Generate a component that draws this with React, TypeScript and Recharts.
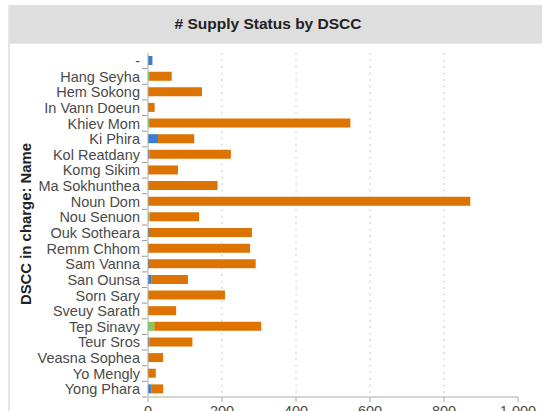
import { BarChart, Bar, XAxis, YAxis, CartesianGrid } from 'recharts';

// DSCC staff in charge, top to bottom
const names = [
    '-', 'Hang Seyha', 'Hem Sokong', 'In Vann Doeun', 'Khiev Mom', 'Ki Phira', 'Kol Reatdany', 'Komg Sikim',
    'Ma Sokhunthea', 'Noun Dom', 'Nou Senuon', 'Ouk Sotheara', 'Remm Chhom', 'Sam Vanna', 'San Ounsa',
    'Sorn Sary', 'Sveuy Sarath', 'Tep Sinavy', 'Teur Sros', 'Veasna Sophea', 'Yo Mengly', 'Yong Phara',
];

// supply status counts per person (stacked, left to right)
const delivered = [12, 0, 0, 0, 0, 27, 0, 0, 0, 0, 0, 0, 0, 0, 10, 0, 0, 0, 0, 0, 0, 10];
const partial = [0, 3, 0, 0, 3, 0, 0, 0, 0, 0, 4, 0, 0, 0, 0, 0, 0, 17, 0, 0, 0, 0];
const other = [0, 0, 0, 0, 0, 0, 4, 0, 0, 0, 0, 5, 0, 5, 0, 0, 0, 0, 4, 0, 0, 0];
const pending = [0, 61, 146, 18, 544, 98, 220, 81, 188, 871, 134, 276, 276, 286, 98, 208, 76, 289, 116, 41, 21, 31];

const xTicks = [0, 200, 400, 600, 800, 1000];

const data = names.map((name, i) => ({
    name,
    delivered: delivered[i],
    partial: partial[i],
    other: other[i],
    pending: pending[i],
}));

const FONT = '"Liberation Sans", Arial, Helvetica, sans-serif';

// category label plus a small tick at the band edge
const NameTick = ({ x, y, payload }: any) => (
    <g>
        <line x1={x + 1} x2={x + 6} y1={y + 7.8} y2={y + 7.8} stroke="#999" />
        <text x={x - 1} y={y} dy="0.36em" textAnchor="end" fill="#4a4a4a" fontSize={14.5} fontFamily={FONT}>
            {payload.value}
        </text>
    </g>
);

const App = () => {
    return (
        <div style={{ position: 'absolute', left: 0, top: 0, width: 542, height: 411, overflow: 'hidden', background: '#fff', fontFamily: FONT }}>
            {/* panel frame + header */}
            <div style={{ position: 'absolute', left: 8, top: 5, width: 540, height: 420, borderLeft: '2px solid #e6e6e6', borderTop: '1px solid #e2e2e2', boxSizing: 'border-box' }}>
                <div style={{ height: 37, background: '#dedede', borderBottom: '1px solid #e8e8e8' }} />
            </div>
            <div style={{ position: 'absolute', left: 8, top: 14, width: 520, textAlign: 'center', fontWeight: 'bold', fontSize: 15.5, color: '#222', lineHeight: '20px' }}>
                # Supply Status by DSCC
            </div>
            <div style={{ position: 'absolute', left: 26, top: 224, width: 0, height: 0 }}>
                <div style={{ position: 'absolute', transform: 'translate(-50%, -50%) rotate(-90deg)', whiteSpace: 'nowrap', fontWeight: 'bold', fontSize: 14.9, color: '#222', lineHeight: '18px' }}>
                    DSCC in charge: Name
                </div>
            </div>

            <div style={{ position: 'absolute', left: 0, top: 0 }}>
                <BarChart width={542} height={440} data={data} layout="vertical" margin={{ top: 53, right: 24, bottom: 13, left: 8 }} barSize={9}>
                    <CartesianGrid horizontal={false} verticalValues={[200, 400, 600, 800]} stroke="#c8c8c8" strokeDasharray="2 4.5" />
                    <XAxis
                        type="number"
                        domain={[0, 1000]}
                        ticks={xTicks}
                        tickFormatter={(v: number) => v.toLocaleString('en-US')}
                        height={30}
                        tickSize={5}
                        tickMargin={4}
                        axisLine={{ stroke: '#aaa' }}
                        tickLine={{ stroke: '#aaa' }}
                        tick={{ fill: '#4a4a4a', fontSize: 14.5, fontFamily: FONT }}
                    />
                    <YAxis
                        dataKey="name"
                        type="category"
                        width={140}
                        interval={0}
                        tickSize={5}
                        tickLine={false}
                        axisLine={{ stroke: '#aaa' }}
                        tick={<NameTick />}
                    />
                    <Bar dataKey="delivered" stackId="s" fill="#3a7bd5" isAnimationActive={false} />
                    <Bar dataKey="partial" stackId="s" fill="#79cf55" isAnimationActive={false} />
                    <Bar dataKey="other" stackId="s" fill="#5c6f8c" isAnimationActive={false} />
                    <Bar dataKey="pending" stackId="s" fill="#dd7300" isAnimationActive={false} />
                </BarChart>
            </div>
        </div>
    );
};

export default App;
